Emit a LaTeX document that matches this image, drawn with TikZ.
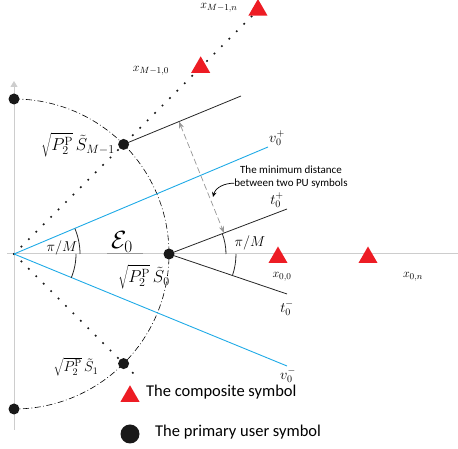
\documentclass[tikz,border=0pt]{standalone}
\usepackage{fontspec}
\newfontfamily\carl{Carlito}
\usetikzlibrary{shapes.geometric,arrows.meta,calc}
\definecolor{axisgray}{RGB}{205,205,205}
\definecolor{lineblue}{RGB}{30,170,230}
\definecolor{trired}{RGB}{237,28,36}
\definecolor{dashgray}{RGB}{150,150,150}
\begin{document}
\begin{tikzpicture}[x=1pt,y=1pt,
  axisline/.style={draw=axisgray, line width=1pt},
  pu/.style={circle, fill=black!90, inner sep=0, minimum size=11pt},
  comp/.style={regular polygon, regular polygon sides=3, fill=trired, inner sep=0, minimum size=22pt},
  dotline/.style={line width=2.4pt, line cap=round, dash pattern=on 0pt off 10.5pt, black!90},
  dashdotline/.style={line width=0.6pt, dash pattern=on 6pt off 2.5pt on 0.8pt off 2.5pt},
  bound/.style={line width=0.8pt, black!85},
  vline/.style={line width=0.9pt, lineblue},
  lab/.style={font=\fontsize{13}{15}\selectfont, inner sep=0},
  vtlab/.style={font=\fontsize{14}{16}\selectfont, inner sep=0},
  biglab/.style={font=\fontsize{17}{19}\selectfont, inner sep=0},
  note/.style={font=\carl\fontsize{11}{12.5}\selectfont, inner sep=0, align=center},
  legtext/.style={font=\carl\fontsize{16.5}{18}\selectfont, inner sep=0, anchor=west}
]
\useasboundingbox (0,0) rectangle (458,449);

% key points
\coordinate (O) at (14,195);
\coordinate (pS0) at (169,195);
\coordinate (pSM) at ($(O)+(45:155)$);
\coordinate (pS1) at ($(O)+(-45:155)$);
\coordinate (pTop) at (14,350);
\coordinate (pBot) at (14,40);
\coordinate (vp) at (268,302);
\coordinate (vm) at (287,83);
\coordinate (tp) at (287,240);
\coordinate (tm) at (287,155);
\coordinate (sm) at (241,353);
\coordinate (dotEndA) at ($(O)+(45:345)$);
\coordinate (dotEndB) at ($(O)+(-45:176)$);

% axes
\draw[axisline] (7,195) -- (458,195);
\draw[axisline, -{Triangle[width=7pt,length=6pt]}, axisgray] (14,19) -- (14,368);
\draw[draw=black!40, line width=1pt] (107,195) -- (143,195);

% circle arc
\draw[dashdotline] (pTop) arc[start angle=90, end angle=-90, radius=155];

% dotted rays
\draw[dotline] (O) -- (dotEndA);
\draw[dotline] (O) -- (dotEndB);

% blue boundaries
\draw[vline] (O) -- (vp);
\draw[vline] (O) -- (vm);

% black decision lines
\draw[bound] (pSM) -- (sm);
\draw[bound] (pS0) -- (tp);
\draw[bound] (pS0) -- (tm);

% angle arcs
\draw[bound] ($(O)+(66,0)$) arc[start angle=0, end angle=22.5, radius=66];
\draw[bound] ($(O)+(-22.5:62)$) arc[start angle=-22.5, end angle=0, radius=62];
\draw[bound] ($(pS0)+(57,0)$) arc[start angle=0, end angle=20.9, radius=57];
\draw[bound] ($(pS0)+(-18.7:67)$) arc[start angle=-18.7, end angle=0, radius=67];

% minimum distance arrow
\coordinate (da) at ($(pSM)!0.472!(sm)$);
\coordinate (db) at ($(pS0)!0.466!(tp)$);
\draw[dashgray, line width=0.7pt, dash pattern=on 6pt off 3pt,
  {Stealth[length=7pt,width=5pt]}-{Stealth[length=7pt,width=5pt]}] (da) -- (db);

% points
\node[pu] (S0) at (pS0) {};
\node[pu] (SM) at (pSM) {};
\node[pu] (S1) at (pS1) {};
\node[pu] (Stop) at (pTop) {};
\node[pu] (Sbot) at (pBot) {};

% composite symbols
\node[comp] (XMn) at (dotEndA) {};
\node[comp] (XM0) at ($(O)+(45:264)$) {};
\node[comp] (X00) at (278,191.5) {};
\node[comp] (X0n) at (368,191.5) {};

% labels
\node[lab] (lXMn) at (219,441) {$x_{M-1,n}$};
\node[lab] (lXM0) at (151,378) {$x_{M-1,0}$};
\node[biglab] (lSM) at (78,304) {$\sqrt{P_2^{\mathrm{P}}}\,\tilde{S}_{M-1}$};
\node[biglab] (lS0) at (144,172) {$\sqrt{P_2^{\mathrm{P}}}\,\tilde{S}_{0}$};
\node[biglab, font=\fontsize{14}{16}\selectfont] (lS1) at (76,82) {$\sqrt{P_2^{\mathrm{P}}}\,\tilde{S}_{1}$};
\node[vtlab] (lvp) at (277,311) {$v_0^{+}$};
\node[vtlab] (ltp) at (277,249) {$t_0^{+}$};
\node[vtlab] (ltm) at (287,141) {$t_0^{-}$};
\node[vtlab] (lvm) at (288,74) {$v_0^{-}$};
\node[lab] (lX00) at (282,172) {$x_{0,0}$};
\node[lab] (lX0n) at (413,172) {$x_{0,n}$};
\node[inner sep=0, font=\fontsize{23}{26}\selectfont] (lE) at (122,207) {$\mathcal{E}_0$};
\node[lab, font=\fontsize{14}{16}\selectfont] (lpiL) at (62,201) {$\pi/M$};
\node[lab, font=\fontsize{14}{16}\selectfont] (lpiR) at (250,206) {$\pi/M$};

% annotation
\node[note] (noteA) at (291,272) {The minimum distance\\between two PU symbols};
\draw[line width=0.7pt, -{Stealth[length=5pt,width=4.5pt]}] ($(noteA.south west)+(0,5)$) to[out=180, in=75] (213,252);

% legend
\node[comp] (legT) at (130,52.7) {};
\node[legtext] (legTt) at (146,57) {The composite symbol};
\node[pu, minimum size=19pt] (legC) at (130,15) {};
\node[legtext] (legCt) at (155,17) {The primary user symbol};
\end{tikzpicture}
\end{document}
